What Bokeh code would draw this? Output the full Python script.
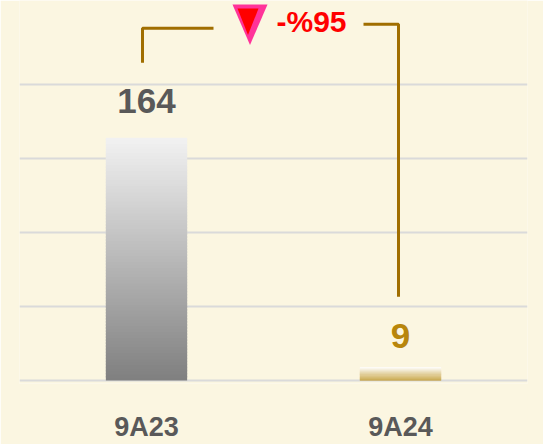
from bokeh.plotting import figure
from bokeh.models import FactorRange, Range1d, FixedTicker, ColumnDataSource
from bokeh.core.properties import value
from bokeh.embed import file_html
from bokeh.resources import INLINE

# ---- data ----
categories = ["9A23", "9A24"]
values = [164, 9]
value_label_colors = ["#595959", "#B8860B"]
grid_ticks = [0, 50, 100, 150, 200]

# ---- style ----
BG = "#FBF6E1"
FONT = "Liberation Sans"
bar_top_colors = ["#F2F2F2", "#FFFFFF"]
bar_bottom_colors = ["#7F7F7F", "#C09A30"]
label_offsets = [-37, -31]
BRACKET = "#A06E00"

W, H = 543, 444
p = figure(x_range=FactorRange(factors=categories), y_range=Range1d(-2, 256.67),
           width=W, height=H, output_backend="svg", toolbar_location=None,
           min_border_left=19, min_border_right=16, min_border_top=0, min_border_bottom=56)
p.background_fill_color = BG
p.border_fill_color = BG
p.outline_line_color = None

p.yaxis.visible = False
p.xgrid.grid_line_color = None
p.ygrid.ticker = FixedTicker(ticks=grid_ticks)
p.ygrid.grid_line_color = "#DADADA"
p.ygrid.grid_line_width = 2

ax = p.xaxis[0]
ax.axis_line_color = None
ax.major_tick_line_color = None
ax.minor_tick_line_color = None
ax.major_label_text_font = FONT
ax.major_label_text_font_style = "bold"
ax.major_label_text_font_size = "27px"
ax.major_label_text_color = "#595959"
ax.major_label_standoff = 22


def hex2rgb(h):
    h = h.lstrip("#")
    return [int(h[i:i + 2], 16) for i in (0, 2, 4)]


def mix(c1, c2, t):
    a, b = hex2rgb(c1), hex2rgb(c2)
    return "#%02x%02x%02x" % tuple(int(round(a[k] + (b[k] - a[k]) * t)) for k in range(3))


# gradient bars: each bar split into thin slices
N = 80
xs, bottoms, tops, colors = [], [], [], []
for cat, v, ct, cb in zip(categories, values, bar_top_colors, bar_bottom_colors):
    for i in range(N):
        b = v * i / N
        t = min(v, v * (i + 1.6) / N)
        xs.append(cat)
        bottoms.append(b)
        tops.append(t)
        colors.append(mix(cb, ct, (i + 0.5) / N))
p.vbar(x=xs, bottom=bottoms, top=tops, width=0.32, fill_color=colors, line_color=None)

# value labels
src = ColumnDataSource(dict(x=categories, y=values, txt=[str(v) for v in values],
                            c=value_label_colors, off=label_offsets))
p.text(x="x", y="y", text="txt", source=src, text_color="c", text_align="center",
       text_baseline="middle", y_offset="off", text_font=value(FONT), text_font_style="bold",
       text_font_size="35px")

# change bracket
p.line(x=[0.4843, 0.4843, 0.7638], y=[214.67, 238.0, 238.0], line_color=BRACKET, line_width=3)
p.line(x=[1.3543, 1.4921, 1.4921], y=[240.67, 240.67, 56.67], line_color=BRACKET, line_width=3)

# down triangle marker
p.patch(x=[0.8386, 0.9764, 0.9075], y=[254.0, 254.0, 226.67], fill_color="#FF3399", line_color=None)
p.patch(x=[0.8583, 0.941, 0.8996], y=[251.3, 251.3, 233.3], fill_color="#FF0000", line_color=None)

change = (values[1] - values[0]) / values[0] * 100
change_txt = ("-" if change < 0 else "+") + "%" + "%.0f" % abs(change)
p.text(x=[1.0118], y=[242.67], text=[change_txt], text_color="#FF0000", text_align="left",
       text_baseline="middle", text_font=value(FONT), text_font_style="bold", text_font_size="30px")

html = file_html(p, INLINE)
html = html.replace("<body>", '<body style="background-color:%s;">' % BG, 1)
open("out.html", "w").write(html)
